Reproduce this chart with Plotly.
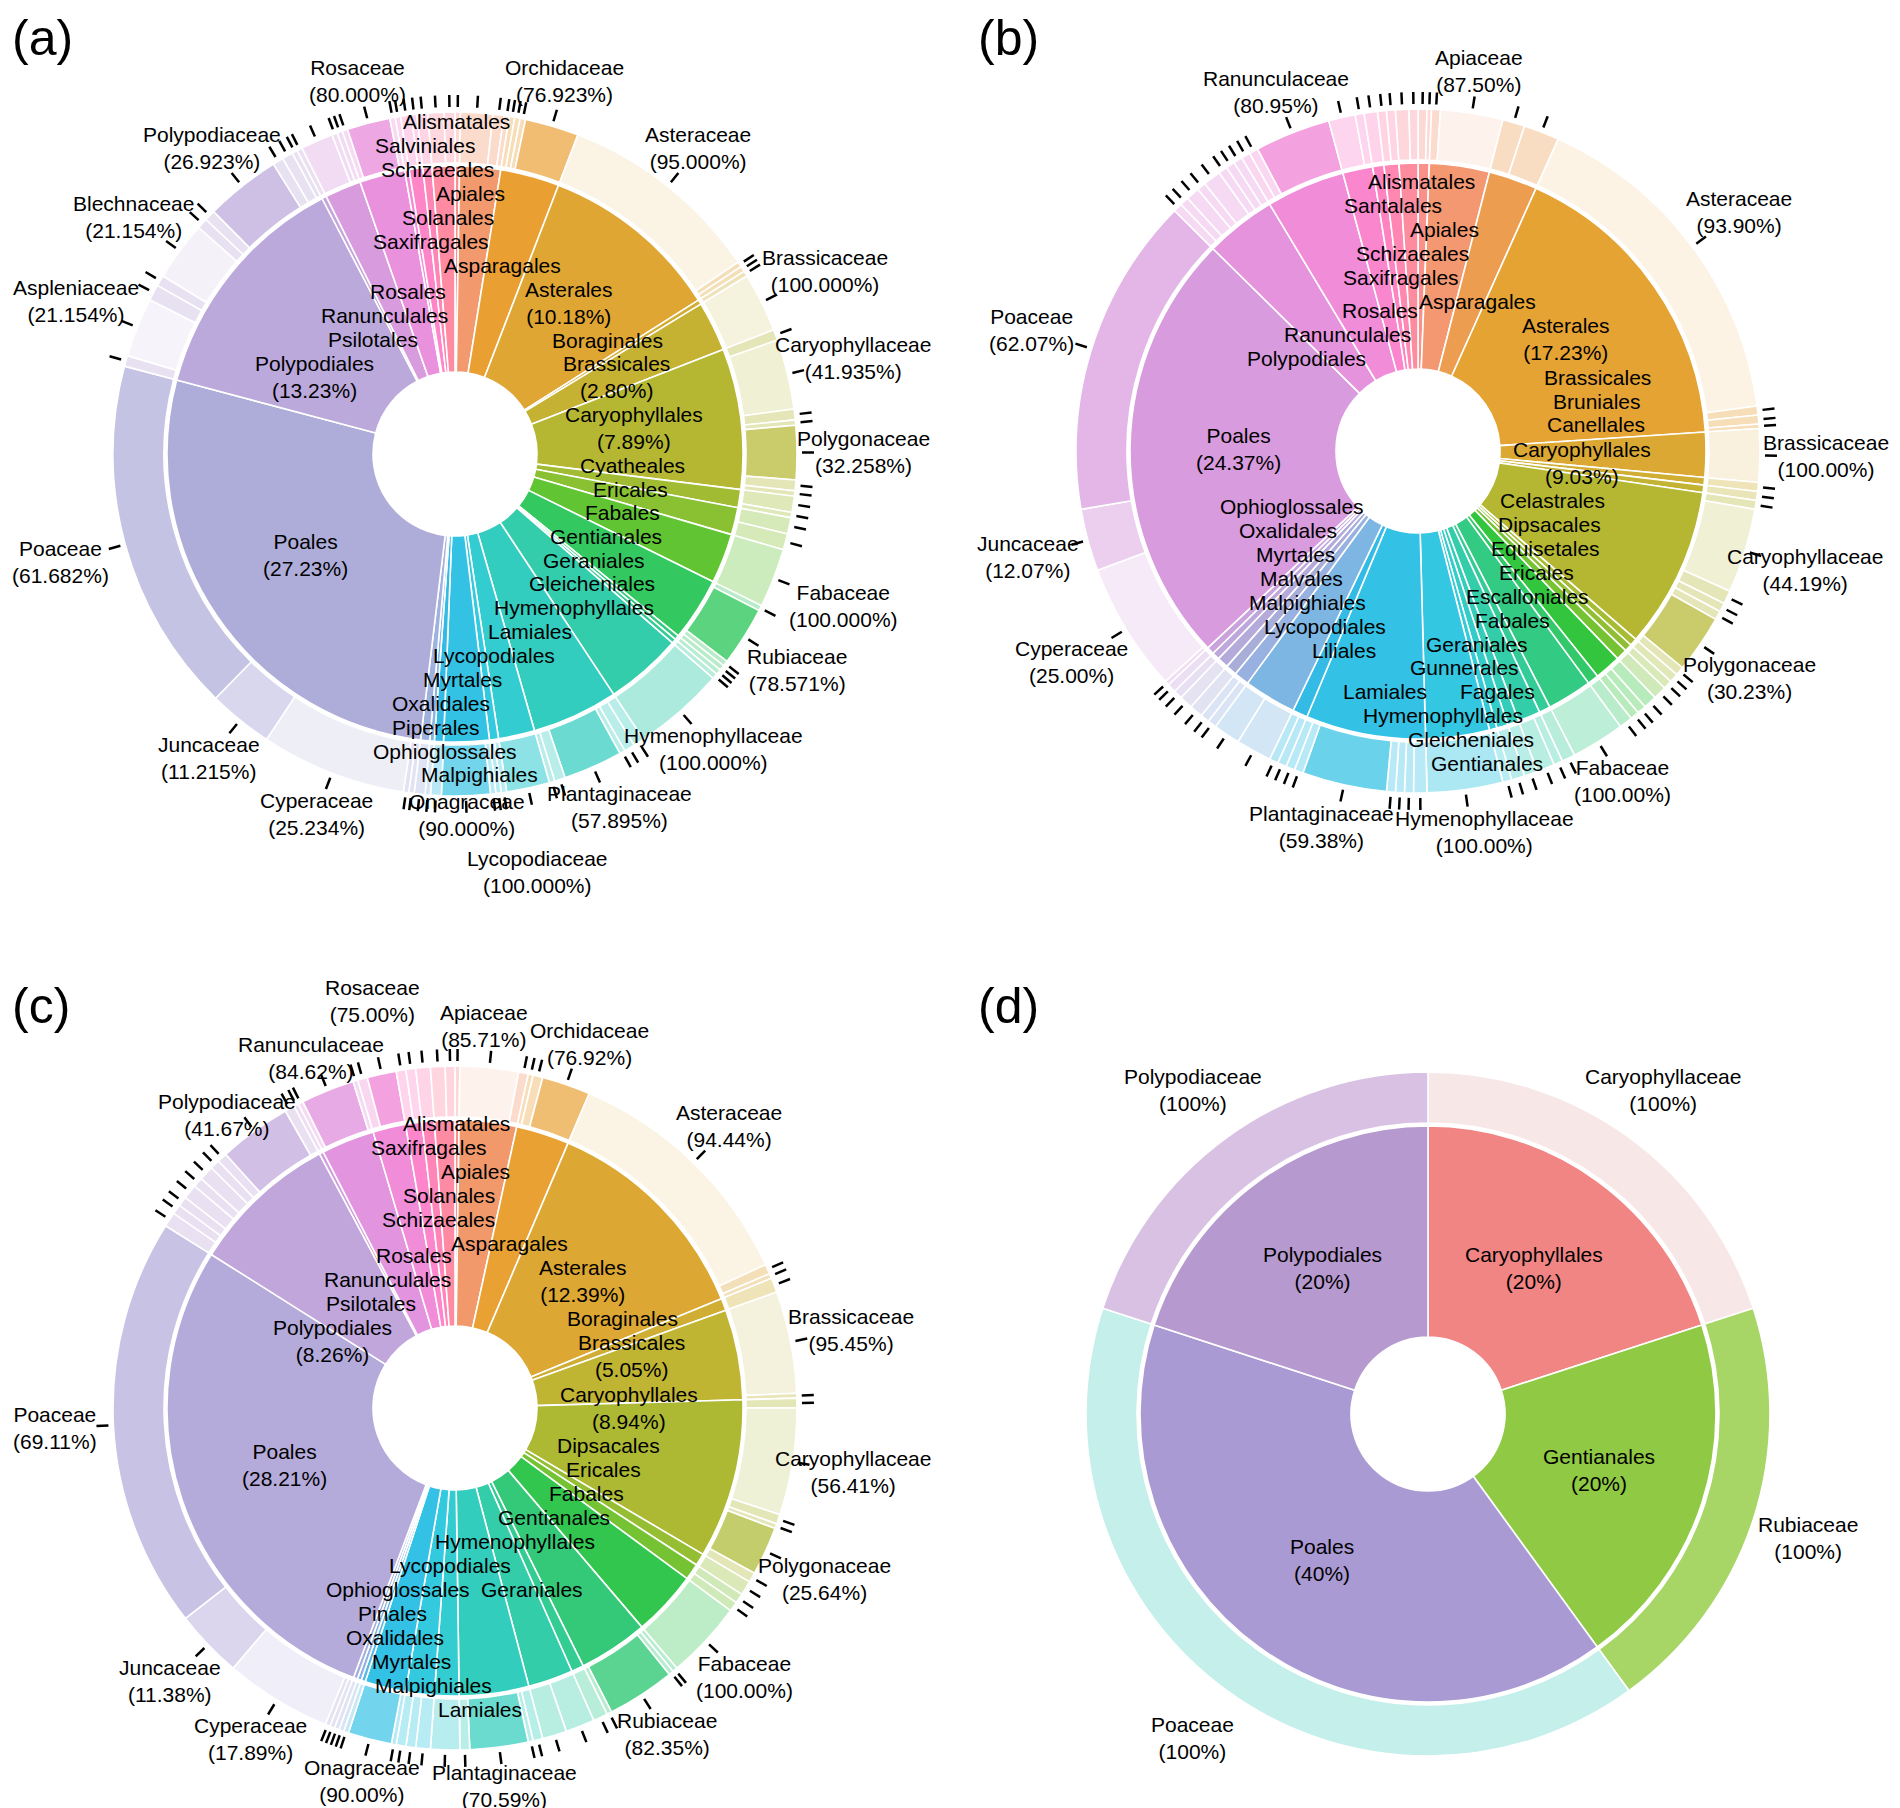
import math
import plotly.graph_objects as go

W, H = 1900, 1808

# ======================= DATA =======================
# ---- panel (a) ----
A_ORDERS = ["Alismatales", "Apiales", "Asparagales", "Asterales", "Boraginales", "Brassicales",
            "Caryophyllales", "Cyatheales", "Ericales", "Fabales", "Gentianales", "Geraniales",
            "Gleicheniales", "Hymenophyllales", "Lamiales", "Lycopodiales", "Malpighiales", "Myrtales",
            "Ophioglossales", "Oxalidales", "Piperales", "Poales", "Polypodiales", "Psilotales",
            "Ranunculales", "Rosales", "Salviniales", "Saxifragales", "Schizaeales", "Solanales"]
A_ORDER_N = [1, 9, 13, 40, 1, 11, 31, 4, 6, 11, 14, 1, 1, 17, 19, 8, 2, 10, 2, 1, 2, 107, 52, 1,
             8, 10, 1, 3, 2, 5]
A_PCT_ORDERS = ["Poales", "Polypodiales", "Asterales", "Caryophyllales", "Brassicales"]
A_FAMILIES = [
    ("Alismatales", "", 1),
    ("Apiales", "", 6), ("Apiales", "", 2), ("Apiales", "", 1),
    ("Asparagales", "", 1), ("Asparagales", "", 1), ("Asparagales", "", 1), ("Asparagales", "Orchidaceae", 10),
    ("Asterales", "Asteraceae", 38), ("Asterales", "", 1), ("Asterales", "", 1),
    ("Boraginales", "", 1),
    ("Brassicales", "Brassicaceae", 11),
    ("Caryophyllales", "", 2), ("Caryophyllales", "Caryophyllaceae", 13), ("Caryophyllales", "", 2),
    ("Caryophyllales", "", 1), ("Caryophyllales", "Polygonaceae", 10), ("Caryophyllales", "", 2),
    ("Caryophyllales", "", 1),
    ("Cyatheales", "", 3), ("Cyatheales", "", 1),
    ("Ericales", "", 3), ("Ericales", "", 3),
    ("Fabales", "Fabaceae", 11),
    ("Gentianales", "", 1), ("Gentianales", "Rubiaceae", 11), ("Gentianales", "", 1), ("Gentianales", "", 1),
    ("Geraniales", "", 1),
    ("Gleicheniales", "", 1),
    ("Hymenophyllales", "Hymenophyllaceae", 17),
    ("Lamiales", "", 2), ("Lamiales", "", 2), ("Lamiales", "", 1), ("Lamiales", "Plantaginaceae", 11),
    ("Lamiales", "", 2), ("Lamiales", "", 1),
    ("Lycopodiales", "Lycopodiaceae", 8),
    ("Malpighiales", "", 1), ("Malpighiales", "", 1),
    ("Myrtales", "", 1), ("Myrtales", "Onagraceae", 9),
    ("Ophioglossales", "", 2),
    ("Oxalidales", "", 1),
    ("Piperales", "", 2),
    ("Poales", "", 1), ("Poales", "", 1), ("Poales", "Cyperaceae", 27), ("Poales", "Juncaceae", 12),
    ("Poales", "Poaceae", 66),
    ("Polypodiales", "", 2), ("Polypodiales", "Aspleniaceae", 11), ("Polypodiales", "", 3),
    ("Polypodiales", "", 2), ("Polypodiales", "Blechnaceae", 11), ("Polypodiales", "", 2),
    ("Polypodiales", "", 2), ("Polypodiales", "Polypodiaceae", 14), ("Polypodiales", "", 2),
    ("Polypodiales", "", 2), ("Polypodiales", "", 1),
    ("Psilotales", "", 1),
    ("Ranunculales", "", 6), ("Ranunculales", "", 1), ("Ranunculales", "", 1),
    ("Rosales", "", 1), ("Rosales", "Rosaceae", 8), ("Rosales", "", 1),
    ("Salviniales", "", 1),
    ("Saxifragales", "", 2), ("Saxifragales", "", 1),
    ("Schizaeales", "", 2),
    ("Solanales", "", 3), ("Solanales", "", 2),
]

# ---- panel (b) ----
B_ORDERS = ["Alismatales", "Apiales", "Asparagales", "Asterales", "Brassicales", "Bruniales",
            "Canellales", "Caryophyllales", "Celastrales", "Dipsacales", "Equisetales", "Ericales",
            "Escalloniales", "Fabales", "Fagales", "Gentianales", "Geraniales", "Gleicheniales",
            "Gunnerales", "Hymenophyllales", "Lamiales", "Liliales", "Lycopodiales", "Malpighiales",
            "Malvales", "Myrtales", "Ophioglossales", "Oxalidales", "Poales", "Polypodiales",
            "Ranunculales", "Rosales", "Santalales", "Saxifragales", "Schizaeales"]
B_ORDER_N = [3, 16, 13, 82, 12, 2, 2, 43, 2, 2, 3, 7, 3, 12, 3, 6, 3, 3, 2, 17, 32, 4, 14, 4, 3,
             3, 2, 2, 116, 19, 21, 8, 3, 4, 5]
B_PCT_ORDERS = ["Poales", "Asterales", "Caryophyllales"]
B_FAMILIES = [
    ("Alismatales", "", 2), ("Alismatales", "", 1),
    ("Apiales", "", 2), ("Apiales", "Apiaceae", 14),
    ("Asparagales", "", 5), ("Asparagales", "", 8),
    ("Asterales", "Asteraceae", 77), ("Asterales", "", 2), ("Asterales", "", 2), ("Asterales", "", 1),
    ("Brassicales", "Brassicaceae", 12),
    ("Bruniales", "", 2),
    ("Canellales", "", 2),
    ("Caryophyllales", "", 2), ("Caryophyllales", "Caryophyllaceae", 19), ("Caryophyllales", "", 3),
    ("Caryophyllales", "", 2), ("Caryophyllales", "", 2), ("Caryophyllales", "Polygonaceae", 13),
    ("Caryophyllales", "", 2),
    ("Celastrales", "", 2),
    ("Dipsacales", "", 2),
    ("Equisetales", "", 3),
    ("Ericales", "", 3), ("Ericales", "", 2), ("Ericales", "", 2),
    ("Escalloniales", "", 3),
    ("Fabales", "Fabaceae", 12),
    ("Fagales", "", 3),
    ("Gentianales", "", 2), ("Gentianales", "", 4),
    ("Geraniales", "", 3),
    ("Gleicheniales", "", 3),
    ("Gunnerales", "", 2),
    ("Hymenophyllales", "Hymenophyllaceae", 17),
    ("Lamiales", "", 3), ("Lamiales", "", 2), ("Lamiales", "", 2), ("Lamiales", "", 2),
    ("Lamiales", "Plantaginaceae", 19), ("Lamiales", "", 2), ("Lamiales", "", 2),
    ("Liliales", "", 2), ("Liliales", "", 2),
    ("Lycopodiales", "", 8), ("Lycopodiales", "", 6),
    ("Malpighiales", "", 2), ("Malpighiales", "", 2),
    ("Malvales", "", 3),
    ("Myrtales", "", 3),
    ("Ophioglossales", "", 2),
    ("Oxalidales", "", 2),
    ("Poales", "", 1), ("Poales", "Cyperaceae", 29), ("Poales", "Juncaceae", 14), ("Poales", "Poaceae", 72),
    ("Polypodiales", "", 2), ("Polypodiales", "", 2), ("Polypodiales", "", 3), ("Polypodiales", "", 2),
    ("Polypodiales", "", 4), ("Polypodiales", "", 2), ("Polypodiales", "", 2), ("Polypodiales", "", 2),
    ("Ranunculales", "", 2), ("Ranunculales", "", 2), ("Ranunculales", "Ranunculaceae", 17),
    ("Rosales", "", 6), ("Rosales", "", 2),
    ("Santalales", "", 3),
    ("Saxifragales", "", 2), ("Saxifragales", "", 2),
    ("Schizaeales", "", 3), ("Schizaeales", "", 2),
]

# ---- panel (c) ----
C_ORDERS = ["Alismatales", "Apiales", "Asparagales", "Asterales", "Boraginales", "Brassicales",
            "Caryophyllales", "Dipsacales", "Ericales", "Fabales", "Gentianales", "Geraniales",
            "Hymenophyllales", "Lamiales", "Lycopodiales", "Malpighiales", "Myrtales", "Ophioglossales",
            "Oxalidales", "Pinales", "Poales", "Polypodiales", "Psilotales", "Ranunculales", "Rosales",
            "Saxifragales", "Schizaeales", "Solanales"]
C_ORDER_N = [1, 14, 13, 54, 3, 22, 39, 3, 4, 16, 17, 3, 11, 17, 6, 7, 10, 1, 1, 1, 123, 36, 1, 13,
             8, 4, 3, 5]
C_PCT_ORDERS = ["Poales", "Polypodiales", "Asterales", "Brassicales", "Caryophyllales"]
C_FAMILIES = [
    ("Alismatales", "", 1),
    ("Apiales", "Apiaceae", 12), ("Apiales", "", 2),
    ("Asparagales", "", 1), ("Asparagales", "", 2), ("Asparagales", "Orchidaceae", 10),
    ("Asterales", "Asteraceae", 51), ("Asterales", "", 2), ("Asterales", "", 1),
    ("Boraginales", "", 3),
    ("Brassicales", "Brassicaceae", 21), ("Brassicales", "", 1),
    ("Caryophyllales", "", 2), ("Caryophyllales", "Caryophyllaceae", 22), ("Caryophyllales", "", 2),
    ("Caryophyllales", "", 1), ("Caryophyllales", "Polygonaceae", 10), ("Caryophyllales", "", 2),
    ("Dipsacales", "", 3),
    ("Ericales", "", 2), ("Ericales", "", 2),
    ("Fabales", "Fabaceae", 16),
    ("Gentianales", "", 1), ("Gentianales", "", 1), ("Gentianales", "Rubiaceae", 14), ("Gentianales", "", 1),
    ("Geraniales", "", 3),
    ("Hymenophyllales", "", 6), ("Hymenophyllales", "", 5),
    ("Lamiales", "", 2), ("Lamiales", "", 1), ("Lamiales", "Plantaginaceae", 12), ("Lamiales", "", 2),
    ("Lycopodiales", "", 6),
    ("Malpighiales", "", 3), ("Malpighiales", "", 2), ("Malpighiales", "", 2),
    ("Myrtales", "", 1), ("Myrtales", "Onagraceae", 9),
    ("Ophioglossales", "", 1),
    ("Oxalidales", "", 1),
    ("Pinales", "", 1),
    ("Poales", "", 1), ("Poales", "", 1), ("Poales", "Cyperaceae", 22), ("Poales", "Juncaceae", 14),
    ("Poales", "Poaceae", 85),
    ("Polypodiales", "", 3), ("Polypodiales", "", 2), ("Polypodiales", "", 2), ("Polypodiales", "", 3),
    ("Polypodiales", "", 2), ("Polypodiales", "", 3), ("Polypodiales", "", 2), ("Polypodiales", "", 2),
    ("Polypodiales", "Polypodiaceae", 15), ("Polypodiales", "", 2),
    ("Psilotales", "", 1),
    ("Ranunculales", "", 1), ("Ranunculales", "Ranunculaceae", 11), ("Ranunculales", "", 1),
    ("Rosales", "", 2), ("Rosales", "Rosaceae", 6),
    ("Saxifragales", "", 2), ("Saxifragales", "", 2),
    ("Schizaeales", "", 3),
    ("Solanales", "", 3), ("Solanales", "", 2),
]

# ---- panel (d) ----
D_ORDERS = ["Caryophyllales", "Gentianales", "Poales", "Polypodiales"]
D_ORDER_N = [1, 1, 2, 1]
D_PCT_ORDERS = D_ORDERS
D_FAMILIES = [
    ("Caryophyllales", "Caryophyllaceae", 1),
    ("Gentianales", "Rubiaceae", 1),
    ("Poales", "Poaceae", 2),
    ("Polypodiales", "Polypodiaceae", 1),
]
D_ORDER_COLORS = ["#F08584", "#90C944", "#AA9AD3", "#B699CE"]
D_FAMILY_COLORS = ["#F7E7E6", "#A7D566", "#C4EFEA", "#D9C1E3"]

PANEL_TAGS = ["(a)", "(b)", "(c)", "(d)"]

# ======================= STYLE / GEOMETRY =======================
FONT = "Liberation Sans, Arial, Helvetica, sans-serif"
FS = 21
R_IN, R_GAP, R_OUT = 288, 291, 342
TICK_R0, TICK_R1 = 347, 359
R_ORDER_LABEL = 180


def hue_chroma(h):
    pts = [(0, 100), (205, 100), (230, 72), (262, 46), (290, 52), (315, 78), (345, 100), (360, 100)]
    h = h % 360
    for (h0, c0), (h1, c1) in zip(pts[:-1], pts[1:]):
        if h0 <= h <= h1:
            return c0 + (c1 - c0) * (h - h0) / (h1 - h0)
    return 100


def hcl_rgb(h, c, l):
    hr = math.radians(h)
    U, V = c * math.cos(hr), c * math.sin(hr)
    Y = ((l + 16) / 116) ** 3 if l > 8 else l / 903.3
    Xn, Yn, Zn = 0.95047, 1.0, 1.08883
    un = 4 * Xn / (Xn + 15 * Yn + 3 * Zn)
    vn = 9 * Yn / (Xn + 15 * Yn + 3 * Zn)
    u = U / (13 * l) + un
    v = V / (13 * l) + vn
    X = 9 * Y * u / (4 * v)
    Z = -X / 3 - 5 * Y + 3 * Y / v
    r = 3.240479 * X - 1.537150 * Y - 0.498535 * Z
    g = -0.969256 * X + 1.875992 * Y + 0.041556 * Z
    b = 0.055648 * X - 0.204043 * Y + 1.057311 * Z
    out = []
    for ch in (r, g, b):
        ch = max(0.0, ch)
        ch = 12.92 * ch if ch <= 0.0031308 else 1.055 * (ch ** (1 / 2.4)) - 0.055
        out.append(int(round(255 * min(1, max(0, ch)))))
    return out


def rgba(rgb, a):
    return f"rgba({rgb[0]},{rgb[1]},{rgb[2]},{a:.3f})"


def fam_alpha(name):
    if not name:
        return 0.28
    return 0.1 + 0.8 * (ord(name[0].upper()) - 65) / 25


def clamp_box(b):
    b["x"] = min(max(b["x"], b["w"] / 2 + 2), W - b["w"] / 2 - 2)
    b["y"] = min(max(b["y"], b["h"] / 2 + 2), H - b["h"] / 2 - 2)


def repel(boxes, mode, iters=800, spring=0.008):
    n = len(boxes)
    for it in range(iters):
        moved = False
        for i in range(n):
            for j in range(i + 1, n):
                bi, bj = boxes[i], boxes[j]
                if bi.get("fixed") and bj.get("fixed"):
                    continue
                ox = (bi["w"] + bj["w"]) / 2 - abs(bi["x"] - bj["x"])
                oy = (bi["h"] + bj["h"]) / 2 - abs(bi["y"] - bj["y"])
                if ox > 0 and oy > 0:
                    moved = True
                    push_y = oy <= ox if mode == "xy" else ox > 0.45 * oy
                    key, ov = ("y", oy) if push_y else ("x", ox)
                    s = 1 if bi[key] > bj[key] else -1
                    d = ov * 0.25 + 0.1
                    if bi.get("fixed"):
                        bj[key] -= s * 2 * d
                    elif bj.get("fixed"):
                        bi[key] += s * 2 * d
                    else:
                        bi[key] += s * d
                        bj[key] -= s * d
        for b in boxes:
            if b.get("fixed"):
                continue
            b["x"] += spring * (b["x0"] - b["x"])
            b["y"] += spring * (b["y0"] - b["y"])
            clamp_box(b)
        if not moved:
            break
    return boxes


def text_w(s):
    return 0.5 * FS * len(s)


fig = go.Figure()
annotations = []
tick_x, tick_y = [], []

PANELS = [
    dict(orders=A_ORDERS, counts=A_ORDER_N, pct=A_PCT_ORDERS, fams=A_FAMILIES,
         center=(447, 446), hole=82, odec=2, fdec=3, ticks=True, ocol=None, fcol=None),
    dict(orders=B_ORDERS, counts=B_ORDER_N, pct=B_PCT_ORDERS, fams=B_FAMILIES,
         center=(1410, 443), hole=82, odec=2, fdec=2, ticks=True, ocol=None, fcol=None),
    dict(orders=C_ORDERS, counts=C_ORDER_N, pct=C_PCT_ORDERS, fams=C_FAMILIES,
         center=(447, 1400), hole=82, odec=2, fdec=2, ticks=True, ocol=None, fcol=None),
    dict(orders=D_ORDERS, counts=D_ORDER_N, pct=D_PCT_ORDERS, fams=D_FAMILIES,
         center=(1420, 1406), hole=77, odec=0, fdec=0, ticks=False,
         ocol=D_ORDER_COLORS, fcol=D_FAMILY_COLORS),
]

TAG_POS = [(2, 0), (968, 0), (2, 968), (968, 968)]

for pi, P in enumerate(PANELS):
    orders, counts, fams = P["orders"], P["counts"], P["fams"]
    cx, cy = P["center"]
    total = sum(counts)
    nord = len(orders)
    for o, c in zip(orders, counts):
        assert sum(f[2] for f in fams if f[0] == o) == c, (pi, o)

    if P["ocol"]:
        inner_colors = list(P["ocol"])
        outer_colors = list(P["fcol"])
    else:
        base = {}
        for i, o in enumerate(orders):
            hh = 15 + 360 * i / nord
            base[o] = hcl_rgb(hh, hue_chroma(hh), 65)
        inner_colors = [rgba(base[o], 0.8) for o in orders]
        outer_colors = [rgba(base[f[0]], fam_alpha(f[1])) for f in fams]

    def dom(R):
        return dict(x=[(cx - R) / W, (cx + R) / W], y=[1 - (cy + R) / H, 1 - (cy - R) / H])

    fig.add_trace(go.Pie(
        values=[f[2] for f in fams], labels=[f"{pi}-f{k}" for k in range(len(fams))],
        sort=False, direction="clockwise", rotation=0, hole=R_GAP / R_OUT,
        domain=dom(R_OUT), textinfo="none", hoverinfo="skip", showlegend=False,
        marker=dict(colors=outer_colors, line=dict(color="white", width=1.6))))
    fig.add_trace(go.Pie(
        values=counts, labels=[f"{pi}-o{k}" for k in range(nord)],
        sort=False, direction="clockwise", rotation=0, hole=P["hole"] / R_IN,
        domain=dom(R_IN), textinfo="none", hoverinfo="skip", showlegend=False,
        marker=dict(colors=inner_colors, line=dict(color="white", width=1.6))))

    # ----- order labels -----
    boxes = []
    cum = 0
    for o, c in zip(orders, counts):
        mid = (cum + c / 2) / total * 2 * math.pi
        cum += c
        x0 = cx + R_ORDER_LABEL * math.sin(mid)
        y0 = cy - R_ORDER_LABEL * math.cos(mid)
        lines = [o]
        if o in P["pct"]:
            lines.append(f"({100 * c / total:.{P['odec']}f}%)")
        w = max(text_w(s) for s in lines)
        h = FS * (1.14 + 1.3 * (len(lines) - 1))
        boxes.append(dict(x=x0, y=y0, x0=x0, y0=y0, w=w, h=h, text="<br>".join(lines)))
    repel(boxes, "ypref")
    repel(boxes, "ypref", iters=400, spring=0.0)
    for b in boxes:
        annotations.append(dict(x=b["x"], y=b["y"], xref="x", yref="y", text=b["text"],
                                showarrow=False, xanchor="center", yanchor="middle",
                                align="center", font=dict(size=FS, color="black", family=FONT)))

    # ----- family labels and ticks -----
    fboxes = []
    cum = 0
    for f in fams:
        o, name, c = f
        oc = counts[orders.index(o)]
        mid = (cum + c / 2) / total * 2 * math.pi
        cum += c
        ux, uy = math.sin(mid), -math.cos(mid)
        if P["ticks"]:
            tick_x += [cx + TICK_R0 * ux, cx + TICK_R1 * ux, None]
            tick_y += [cy + TICK_R0 * uy, cy + TICK_R1 * uy, None]
        if name:
            pct = f"({100 * c / oc:.{P['fdec']}f}%)"
            w = max(text_w(name), text_w(pct)) + 6
            h = FS * 2.7
            if P["ticks"]:
                wp = text_w(pct)
                t = min(wp / 2 / max(abs(ux), 1e-6), FS * 1.1 / max(abs(uy), 1e-6))
                rr = TICK_R1 + t + 2
            else:
                rr = 400
            x0 = cx + rr * ux
            y0 = cy + rr * uy
            fboxes.append(dict(x=x0, y=y0, x0=x0, y0=y0, w=w, h=h, text=f"{name}<br>{pct}"))
    for b in fboxes:
        clamp_box(b)
    obstacles = [dict(b, fixed=True) for b in boxes]
    allb = fboxes + obstacles
    repel(allb, "xy")
    repel(allb, "xy", iters=300, spring=0.0)
    for b in fboxes:
        annotations.append(dict(x=b["x"], y=b["y"], xref="x", yref="y", text=b["text"],
                                showarrow=False, xanchor="center", yanchor="middle",
                                align="center", font=dict(size=FS, color="black", family=FONT)))

    tx, ty = TAG_POS[pi]
    annotations.append(dict(x=tx, y=ty, xref="x", yref="y", text=PANEL_TAGS[pi], showarrow=False,
                            xanchor="left", yanchor="top",
                            font=dict(size=50, color="black", family=FONT)))

fig.add_trace(go.Scatter(x=tick_x, y=tick_y, mode="lines", line=dict(color="black", width=2.5),
                         hoverinfo="skip", showlegend=False))

fig.update_layout(
    width=W, height=H, margin=dict(l=0, r=0, t=0, b=0),
    paper_bgcolor="white", plot_bgcolor="white",
    xaxis=dict(range=[0, W], visible=False, fixedrange=True),
    yaxis=dict(range=[H, 0], visible=False, fixedrange=True),
    annotations=annotations,
    font=dict(family=FONT),
)

fig.write_html("out.html")
